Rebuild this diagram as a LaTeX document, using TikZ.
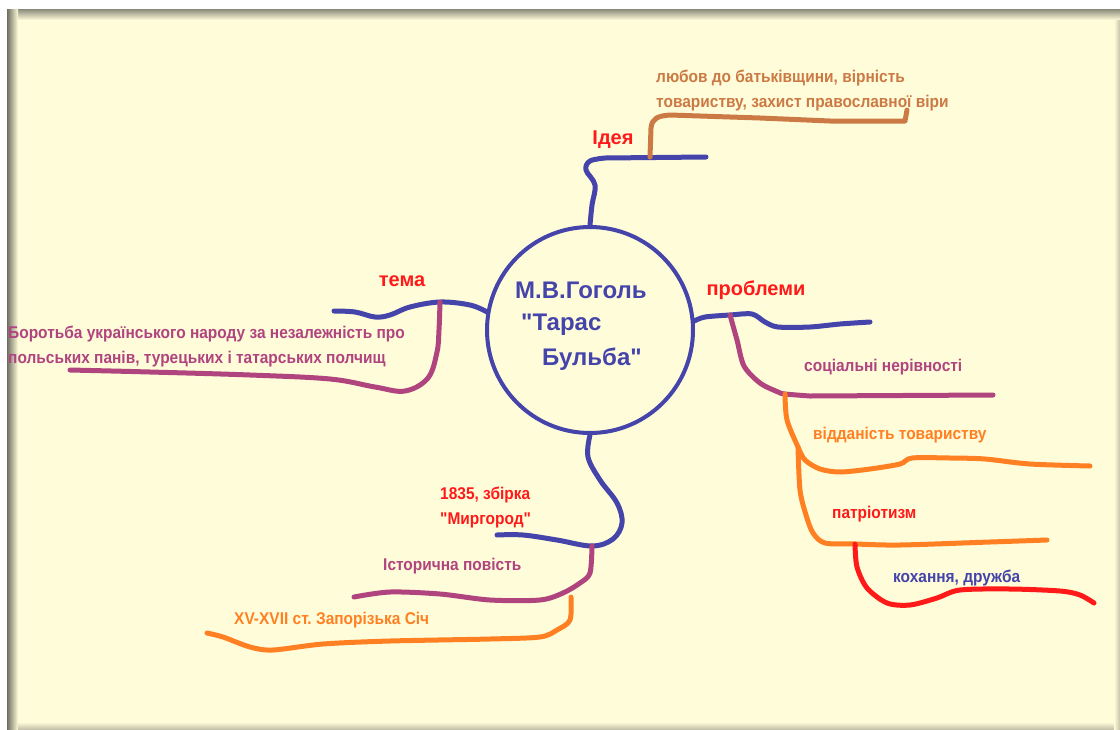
\documentclass[tikz,border=0pt]{standalone}
\usepackage{fontspec}
\setmainfont{Liberation Sans}[Ligatures=TeXOff]
\newfontfamily\narrowbold{Liberation Sans}[FakeStretch=0.91, Ligatures=TeXOff]
\frenchspacing
\definecolor{creamc}{HTML}{FFFCDA}
\definecolor{bluec}{HTML}{4444AA}
\definecolor{magc}{HTML}{B0447F}
\definecolor{orangec}{HTML}{FF8022}
\definecolor{brownc}{HTML}{CC7A45}
\definecolor{redc}{HTML}{FF1A1A}
\definecolor{shadowc}{HTML}{8A8A7A}
\tikzset{
  br/.style={line width=5pt, line cap=round, line join=round},
  bl/.style={br, draw=bluec},
  mg/.style={br, draw=magc},
  og/.style={br, draw=orangec},
  bw/.style={br, draw=brownc},
  rd/.style={br, draw=redc},
  lbl/.style={font=\bfseries\fontsize{20}{22}\selectfont, text=redc, inner sep=0pt},
  txt/.style={font=\narrowbold\bfseries\fontsize{17}{25}\selectfont, inner sep=0pt, anchor=west, align=left},
  ctr/.style={font=\bfseries\fontsize{24}{28}\selectfont, text=bluec, inner sep=0pt, anchor=west}
}
\begin{document}
\begin{tikzpicture}[x=1pt,y=-1pt]
\useasboundingbox (0,0) rectangle (1120,729);
\fill[white] (0,0) rectangle (1120,729);
\fill[creamc] (7,9) rectangle (1120,729);
\shade[top color=shadowc, bottom color=creamc] (7,9) rectangle (1120,20);
\shade[left color=shadowc!80!black, right color=creamc] (7,9) rectangle (18,729);
\shade[top color=creamc, bottom color=shadowc!50!creamc] (18,722) rectangle (1120,729);
\shade[left color=creamc, right color=shadowc!50!creamc] (1114,20) rectangle (1120,729);

% central circle
\node[circle, draw=bluec, line width=4pt, minimum size=206pt, inner sep=0pt] (c) at (590,330) {};
\node[ctr] (t1) at (515,290) {М.В.Гоголь};
\node[ctr] (t2) at (521,325) {"Тарас};
\node[ctr] (t3) at (542,359) {Бульба"};

% labels
\node[lbl] (idea) at (613,140) {Ідея};
\node[lbl] (tema) at (402,281) {тема};
\node[lbl] (probl) at (756,290) {проблеми};

% texts
\node[txt, text=brownc] (ideatxt) at (656,91) {любов до батьківщини, вірність\\товариству, захист православної віри};
\node[txt, text=magc] (tematxt) at (8,347) {Боротьба українського народу за незалежність про\\польських панів, турецьких і татарських полчищ};
\node[txt, text=magc] (soc) at (804,367) {соціальні нерівності};
\node[txt, text=orangec] (vid) at (813,435) {відданість товариству};
\node[txt, text=redc] (patr) at (832,514) {патріотизм};
\node[txt, text=bluec] (kox) at (893,578) {кохання, дружба};
\node[txt, text=redc] (myr) at (440,508) {1835, збірка\\"Миргород"};
\node[txt, text=magc] (ist) at (383,566) {Історична повість};
\node[txt, text=orangec] (zap) at (234,620) {XV-XVII ст. Запорізька Січ};

% branch coordinates
\coordinate (ib) at (650,157);
\coordinate (ie) at (706,157);
\coordinate (tb) at (440,302);
\coordinate (pb) at (730,315);
\coordinate (sb) at (785,394);
\coordinate (vb) at (798,447);
\coordinate (pt) at (855,544);
\coordinate (mb) at (592,546);
\coordinate (hb) at (571,597);

% Ідея
\draw[bl] plot[smooth, tension=0.6] coordinates {(c.north) (592,205) (595,185) (586,170) (590,161) (605,158)} -- (ie);
\draw[bw] (ib) -- (651,128) .. controls (652,118) and (658,116) .. (670,115) -- (760,118) -- (830,121) -- (905,121) -- (907,110);

% тема
\draw[bl] plot[smooth, tension=0.6] coordinates {(c.170) (470,305) (tb) (410,307) (390,315) (375,317) (355,312) (334,311)};
\draw[mg] plot[smooth, tension=0.6] coordinates {(tb) (439,330) (437,352) (428,378) (405,391) (375,387) (330,379) (250,375) (150,372) (70,370)};

% проблеми
\draw[bl] plot[smooth, tension=0.5] coordinates {(c.5) (705,317) (pb) (752,314) (765,322) (778,327) (810,327) (840,324) (870,322)};
\draw[mg] plot[smooth, tension=0.5] coordinates {(pb) (737,340) (744,366) (760,383) (778,392) (sb) (810,396)} -- (993,395);
\draw[og] plot[smooth, tension=0.5] coordinates {(sb) (787,420) (vb) (805,460) (820,469) (840,472) (870,469) (900,464) (912,458) (950,458) (985,459) (1030,464) (1090,466)};
\draw[og] plot[smooth, tension=0.5] coordinates {(vb) (800,490) (806,515) (813,533) (825,543) (pt) (900,545) (990,542) (1047,540)};
\draw[rd] plot[smooth, tension=0.5] coordinates {(pt) (857,567) (867,588) (887,603) (910,605) (937,598) (960,590) (1010,589) (1060,591) (1080,595) (1094,603)};

% bottom
\draw[bl] plot[smooth, tension=0.6] coordinates {(c.south) (588,457) (600,480) (617,503) (622,523) (613,539) (mb) (557,540) (523,535) (497,535)};
\draw[mg] plot[smooth, tension=0.5] coordinates {(mb) (590,573) (580,583) (563,593) (540,600) (490,600) (440,594) (390,592) (354,597)};
\draw[og] plot[smooth, tension=0.5] coordinates {(hb) (570,620) (557,630) (540,637) (490,639) (390,641) (323,644) (273,650) (250,647) (223,637) (207,633)};
\end{tikzpicture}
\end{document}
